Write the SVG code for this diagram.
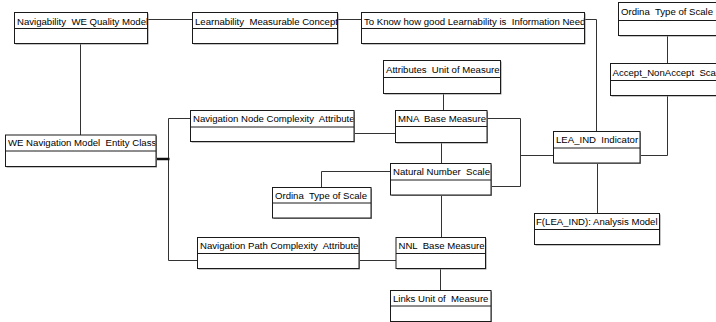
<svg xmlns="http://www.w3.org/2000/svg" width="716" height="322" viewBox="0 0 716 322">
  <style>
    .box rect.frame { fill: #ffffff; stroke: #1a1a1a; stroke-width: 1; }
    .box rect.shade { fill: #8a8a8a; }
    .box line.div { stroke: #1a1a1a; stroke-width: 1; }
    .box text { font-family: "Liberation Sans", Arial, sans-serif; font-size: 9.6px; fill: #000; white-space: pre; }
    #connectors path { fill: none; stroke: #333333; stroke-width: 1; }
    #connectors path.heavy { stroke: #111111; stroke-width: 2.5; }
  </style>
  <rect width="716" height="322" fill="#ffffff"/>

  <!-- connectors -->
  <g id="connectors">
    <path d="M147.5,19.5 H192.5"/>
    <path d="M337.5,19.5 H361.5"/>
    <path d="M584.5,19.5 H596.5 V131.5"/>
    <path d="M667.5,35.5 V63.5"/>
    <path d="M667.5,95.5 V155.5 H640"/>
    <path d="M443.5,93.5 V110.5"/>
    <path d="M487,118.5 H520.5 V186.5 H491"/>
    <path d="M520.5,155.5 H553.5"/>
    <path d="M354,133.5 H395.5"/>
    <path d="M441.5,142.5 V163.5"/>
    <path d="M390.5,171.5 H321.5 V187.5"/>
    <path d="M441.5,195 V237.5"/>
    <path d="M359,260.5 H396"/>
    <path d="M440.5,268.5 V290.5"/>
    <path d="M597.5,163 V213.5"/>
    <path d="M80.5,43.5 V135"/>
    <path d="M190.5,118.5 H168.5 V260.5 H197.5"/>
    <path class="heavy" d="M156,159 H169.5"/>
  </g>

  <defs>
    <clipPath id="c1"><rect x="15" y="13" width="132" height="15"/></clipPath>
    <clipPath id="c2"><rect x="193" y="13" width="144" height="15"/></clipPath>
    <clipPath id="c3"><rect x="362" y="13" width="222" height="15"/></clipPath>
    <clipPath id="c4"><rect x="619" y="3" width="100" height="17"/></clipPath>
    <clipPath id="c5"><rect x="611" y="64" width="110" height="16"/></clipPath>
    <clipPath id="c6"><rect x="384" y="61" width="116" height="16"/></clipPath>
    <clipPath id="c7"><rect x="396" y="111" width="90.5" height="15"/></clipPath>
    <clipPath id="c8"><rect x="191" y="111" width="162.5" height="15.5"/></clipPath>
    <clipPath id="c9"><rect x="6" y="135.5" width="149.5" height="15"/></clipPath>
    <clipPath id="c10"><rect x="554" y="132" width="85.5" height="15.5"/></clipPath>
    <clipPath id="c11"><rect x="391" y="164" width="99.5" height="15.5"/></clipPath>
    <clipPath id="c12"><rect x="273" y="188" width="97.5" height="14.5"/></clipPath>
    <clipPath id="c13"><rect x="535" y="214" width="124" height="15"/></clipPath>
    <clipPath id="c14"><rect x="198" y="238" width="160.5" height="15"/></clipPath>
    <clipPath id="c15"><rect x="396.5" y="238" width="88.5" height="15"/></clipPath>
    <clipPath id="c16"><rect x="391" y="291" width="99.5" height="14.5"/></clipPath>
  </defs>

  <!-- nodes -->
  <g id="n-quality-model" class="box">
    <rect class="shade" x="15.5" y="13.5" width="133" height="31"/>
    <rect class="frame" x="14.5" y="12.5" width="133" height="31"/>
    <line class="div" x1="14.5" y1="28.5" x2="147.5" y2="28.5"/>
    <text x="17" y="24.5" clip-path="url(#c1)">Navigability  WE Quality Model</text>
  </g>

  <g id="n-measurable-concept" class="box">
    <rect class="shade" x="193.5" y="13.5" width="145" height="31"/>
    <rect class="frame" x="192.5" y="12.5" width="145" height="31"/>
    <line class="div" x1="192.5" y1="28.5" x2="337.5" y2="28.5"/>
    <text x="195" y="24.5" clip-path="url(#c2)">Learnability  Measurable Concept</text>
  </g>

  <g id="n-information-need" class="box">
    <rect class="shade" x="362.5" y="13.5" width="223" height="31"/>
    <rect class="frame" x="361.5" y="12.5" width="223" height="31"/>
    <line class="div" x1="361.5" y1="28.5" x2="584.5" y2="28.5"/>
    <text x="364" y="24.5" clip-path="url(#c3)">To Know how good Learnability is  Information Need</text>
  </g>

  <g id="n-ordinal-top" class="box">
    <rect class="shade" x="619.5" y="3.5" width="120" height="33"/>
    <rect class="frame" x="618.5" y="2.5" width="120" height="33"/>
    <line class="div" x1="618.5" y1="20.5" x2="716" y2="20.5"/>
    <text x="621" y="15" clip-path="url(#c4)">Ordina  Type of Scale</text>
  </g>

  <g id="n-accept-scale" class="box">
    <rect class="shade" x="611.5" y="64.5" width="120" height="32"/>
    <rect class="frame" x="610.5" y="63.5" width="120" height="32"/>
    <line class="div" x1="610.5" y1="80.5" x2="716" y2="80.5"/>
    <text x="612.5" y="75.5" clip-path="url(#c5)">Accept_NonAccept  Scale</text>
  </g>

  <g id="n-attributes-unit" class="box">
    <rect class="shade" x="384.5" y="61.5" width="117" height="33"/>
    <rect class="frame" x="383.5" y="60.5" width="117" height="33"/>
    <line class="div" x1="383.5" y1="77.5" x2="500.5" y2="77.5"/>
    <text x="386" y="72.5" clip-path="url(#c6)">Attributes  Unit of Measure</text>
  </g>

  <g id="n-mna" class="box">
    <rect class="shade" x="396.5" y="111.5" width="91.5" height="32"/>
    <rect class="frame" x="395.5" y="110.5" width="91.5" height="32"/>
    <line class="div" x1="395.5" y1="126.5" x2="487" y2="126.5"/>
    <text x="398" y="122" clip-path="url(#c7)">MNA  Base Measure</text>
  </g>

  <g id="n-node-complexity" class="box">
    <rect class="shade" x="191.5" y="111.5" width="163.5" height="31"/>
    <rect class="frame" x="190.5" y="110.5" width="163.5" height="31"/>
    <line class="div" x1="190.5" y1="127" x2="354" y2="127"/>
    <text x="193" y="122" clip-path="url(#c8)">Navigation Node Complexity  Attribute</text>
  </g>

  <g id="n-entity-class" class="box">
    <rect class="shade" x="6.5" y="136" width="150.5" height="31.5"/>
    <rect class="frame" x="5.5" y="135" width="150.5" height="31.5"/>
    <line class="div" x1="5.5" y1="151" x2="156" y2="151"/>
    <text x="8" y="146" clip-path="url(#c9)">WE Navigation Model  Entity Class</text>
  </g>

  <g id="n-lea-ind" class="box">
    <rect class="shade" x="554.5" y="132.5" width="86.5" height="31.5"/>
    <rect class="frame" x="553.5" y="131.5" width="86.5" height="31.5"/>
    <line class="div" x1="553.5" y1="148" x2="640" y2="148"/>
    <text x="556" y="143" clip-path="url(#c10)">LEA_IND  Indicator</text>
  </g>

  <g id="n-natural-scale" class="box">
    <rect class="shade" x="391.5" y="164.5" width="100.5" height="31.5"/>
    <rect class="frame" x="390.5" y="163.5" width="100.5" height="31.5"/>
    <line class="div" x1="390.5" y1="180" x2="491" y2="180"/>
    <text x="393" y="175" clip-path="url(#c11)">Natural Number  Scale</text>
  </g>

  <g id="n-ordinal-mid" class="box">
    <rect class="shade" x="273.5" y="188.5" width="98.5" height="30.5"/>
    <rect class="frame" x="272.5" y="187.5" width="98.5" height="30.5"/>
    <line class="div" x1="272.5" y1="203" x2="371" y2="203"/>
    <text x="275" y="198.5" clip-path="url(#c12)">Ordina  Type of Scale</text>
  </g>

  <g id="n-analysis-model" class="box">
    <rect class="shade" x="535.5" y="214.5" width="125" height="31"/>
    <rect class="frame" x="534.5" y="213.5" width="125" height="31"/>
    <line class="div" x1="534.5" y1="229.5" x2="659.5" y2="229.5"/>
    <text x="536" y="225" clip-path="url(#c13)">F(LEA_IND): Analysis Model</text>
  </g>

  <g id="n-path-complexity" class="box">
    <rect class="shade" x="198.5" y="238.5" width="161.5" height="31"/>
    <rect class="frame" x="197.5" y="237.5" width="161.5" height="31"/>
    <line class="div" x1="197.5" y1="253.5" x2="359" y2="253.5"/>
    <text x="200" y="249" clip-path="url(#c14)">Navigation Path Complexity  Attribute</text>
  </g>

  <g id="n-nnl" class="box">
    <rect class="shade" x="397" y="238.5" width="89.5" height="31"/>
    <rect class="frame" x="396" y="237.5" width="89.5" height="31"/>
    <line class="div" x1="396" y1="253.5" x2="485.5" y2="253.5"/>
    <text x="398.5" y="249" clip-path="url(#c15)">NNL  Base Measure</text>
  </g>

  <g id="n-links-unit" class="box">
    <rect class="shade" x="391.5" y="291.5" width="100.5" height="31"/>
    <rect class="frame" x="390.5" y="290.5" width="100.5" height="31"/>
    <line class="div" x1="390.5" y1="306" x2="491" y2="306"/>
    <text x="393" y="301.5" clip-path="url(#c16)">Links Unit of  Measure</text>
  </g>
</svg>
